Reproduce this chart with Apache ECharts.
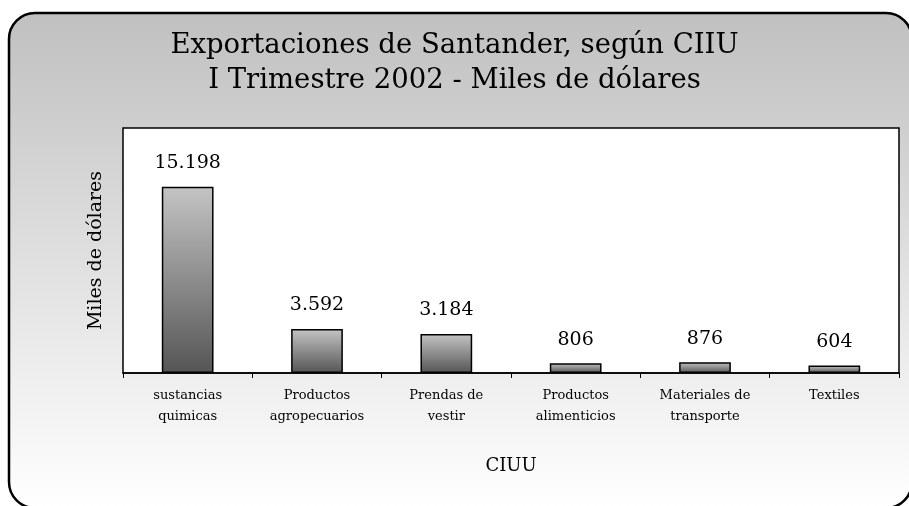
<!DOCTYPE html>
<html><head><meta charset="utf-8">
<script src="https://cdn.jsdelivr.net/npm/echarts@6/dist/echarts.min.js"></script>
<style>html,body{margin:0;padding:0;background:#fff}#c{width:909px;height:506px}</style>
</head><body><div id="c"></div>
<script>
const titleLines = ['Exportaciones de Santander, según CIIU', 'I Trimestre 2002 - Miles de dólares'];
const categories = ['sustancias\nquimicas', 'Productos\nagropecuarios', 'Prendas de\nvestir', 'Productos\nalimenticios', 'Materiales de\ntransporte', 'Textiles'];
const values = [15198, 3592, 3184, 806, 876, 604];
const yAxisName = 'Miles de dólares';
const xAxisName = 'CIUU';

const serif = '"DejaVu Serif", "Liberation Serif", serif';
const chart = echarts.init(document.getElementById('c'), null, {renderer: 'canvas'});
chart.setOption({
  backgroundColor: 'transparent',
  animation: false,
  graphic: [{
    type: 'rect', z: -100, silent: true,
    shape: {x: 9, y: 13, width: 903, height: 495, r: 26},
    style: {
      fill: new echarts.graphic.LinearGradient(0, 0, 0, 1, [
        {offset: 0, color: '#c0c0c0'}, {offset: 1, color: '#ffffff'}]),
      stroke: '#000', lineWidth: 2.5
    }
  }],
  title: {
    text: titleLines.join('\n'),
    left: 'center', top: 23,
    textStyle: {fontFamily: serif, fontSize: 27.5, fontWeight: 'normal', color: '#000', lineHeight: 35}
  },
  grid: {left: 123, right: 10, top: 128, bottom: 133, show: true, backgroundColor: '#fff', borderColor: '#000', borderWidth: 1.5},
  xAxis: {
    type: 'category', data: categories,
    name: xAxisName, nameLocation: 'middle', nameGap: 84,
    nameTextStyle: {fontFamily: serif, fontSize: 18, color: '#000'},
    axisLine: {lineStyle: {color: '#000', width: 1.5}},
    axisTick: {show: true, length: 5, lineStyle: {color: '#000'}},
    axisLabel: {fontFamily: serif, fontSize: 13, color: '#000', margin: 12, lineHeight: 21, interval: 0}
  },
  yAxis: {
    type: 'value', min: 0, max: 20000,
    name: yAxisName, nameLocation: 'middle', nameGap: 17,
    nameTextStyle: {fontFamily: serif, fontSize: 19, color: '#000'},
    axisLine: {show: false}, axisTick: {show: false}, axisLabel: {show: false}, splitLine: {show: false}
  },
  series: [{
    type: 'bar', data: values, barCategoryGap: '60%',
    itemStyle: {
      color: new echarts.graphic.LinearGradient(0, 0, 0, 1, [
        {offset: 0, color: '#c4c4c4'}, {offset: 1, color: '#555555'}]),
      borderColor: '#000', borderWidth: 1.5
    },
    label: {
      show: true, position: 'top', distance: 14,
      fontFamily: serif, fontSize: 19, color: '#000',
      formatter: p => p.value.toString().replace(/\B(?=(\d{3})+(?!\d))/g, '.')
    }
  }]
});
</script></body></html>
